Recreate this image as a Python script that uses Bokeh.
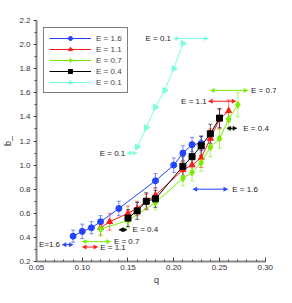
import numpy as np
from bokeh.plotting import figure
from bokeh.models import (Range1d, Whisker, TeeHead, Arrow, NormalHead, ColumnDataSource,
                          Legend, LegendItem, PrintfTickFormatter, FixedTicker, Label)
from bokeh.embed import file_html
from bokeh.resources import INLINE

# ---- data ----
q_16 = [0.09, 0.10, 0.11, 0.12, 0.14, 0.18, 0.20, 0.21, 0.22, 0.23]
b_16 = [0.41, 0.45, 0.48, 0.53, 0.64, 0.87, 1.00, 1.10, 1.17, 1.18]
e_16 = [0.05, 0.06, 0.05, 0.05, 0.06, 0.06, 0.06, 0.06, 0.06, 0.06]

q_11 = [0.12, 0.13, 0.15, 0.16, 0.17, 0.18, 0.21, 0.22, 0.23, 0.24, 0.25, 0.26]
b_11 = [0.48, 0.53, 0.60, 0.64, 0.70, 0.75, 0.96, 1.00, 1.06, 1.22, 1.38, 1.45]
e_11 = [0.06, 0.07, 0.06, 0.06, 0.06, 0.06, 0.07, 0.07, 0.08, 0.08, 0.08, 0.09]

q_07 = [0.12, 0.15, 0.18, 0.21, 0.22, 0.23, 0.24, 0.25, 0.26, 0.27]
b_07 = [0.47, 0.54, 0.69, 0.89, 0.94, 1.02, 1.15, 1.22, 1.38, 1.50]
e_07 = [0.06, 0.06, 0.06, 0.06, 0.07, 0.07, 0.08, 0.08, 0.09, 0.10]

q_04 = [0.15, 0.16, 0.17, 0.18, 0.21, 0.22, 0.23, 0.24, 0.25]
b_04 = [0.56, 0.62, 0.70, 0.72, 0.99, 1.07, 1.16, 1.26, 1.39]
e_04 = [0.07, 0.07, 0.07, 0.07, 0.08, 0.08, 0.08, 0.08, 0.08]

q_01 = [0.16, 0.17, 0.18, 0.19, 0.20, 0.21]
b_01 = [1.15, 1.31, 1.48, 1.62, 1.80, 2.01]

series_labels = ["E = 1.6", "E = 1.1", "E = 0.7", "E = 0.4", "E = 0.1"]

# range annotations: label, series index, x start, x end, y, text x, text side
ann_text = ["E = 0.1", "E = 0.1", "E = 0.7", "E = 1.1", "E = 0.4",
            "E = 1.6", "E=1.6", "E = 0.7", "E = 1.1", "E = 0.4"]
ann_series = [4, 4, 2, 1, 3, 0, 0, 2, 1, 3]
ann_x0 = [0.200, 0.149, 0.240, 0.238, 0.258, 0.221, 0.078, 0.100, 0.100, 0.140]
ann_x1 = [0.238, 0.160, 0.281, 0.268, 0.269, 0.259, 0.090, 0.131, 0.117, 0.149]
ann_y = [2.05, 1.10, 1.62, 1.53, 1.305, 0.80, 0.34, 0.365, 0.32, 0.463]
ann_tx = [0.197, 0.147, 0.2845, 0.236, 0.276, 0.264, 0.0757, 0.1346, 0.1196, 0.155]
ann_side = ["right", "right", "left", "right", "left", "left", "right", "left", "left", "left"]

x_ticks = [0.05, 0.10, 0.15, 0.20, 0.25, 0.30]
y_ticks = [0.2, 0.4, 0.6, 0.8, 1.0, 1.2, 1.4, 1.6, 1.8, 2.0, 2.2]

# ---- styles ----
colors = ["#2244ff", "#ff1a1a", "#77ee00", "#000000", "#77ffdd"]
FONT = "Liberation Sans"

p = figure(width=276, height=287, x_range=Range1d(0.05, 0.3123), y_range=Range1d(0.2, 2.2),
           output_backend="svg", toolbar_location=None,
           min_border_left=31, min_border_right=0, min_border_top=20, min_border_bottom=22)
p.outline_line_color = None
p.grid.visible = False
p.background_fill_color = "white"

xs = [q_16, q_11, q_07, q_04, q_01]
ys = [b_16, b_11, b_07, b_04, b_01]
errs = [e_16, e_11, e_07, e_04, None]
markers = ["circle", "triangle", "diamond", "square", "triangle"]
sizes = [6, 6, 7, 6, 6]
angles = [0, 0, 0, 0, -np.pi / 2]

items = []
for i in range(5):
    c = colors[i]
    if errs[i] is not None:
        src = ColumnDataSource(dict(x=xs[i], lo=[y - e for y, e in zip(ys[i], errs[i])],
                                    hi=[y + e for y, e in zip(ys[i], errs[i])]))
        w = Whisker(source=src, base="x", lower="lo", upper="hi", dimension="height",
                    line_color=c, line_width=1, line_alpha=0.6,
                    upper_head=TeeHead(size=4, line_color=c, line_width=1, line_alpha=0.6),
                    lower_head=TeeHead(size=4, line_color=c, line_width=1, line_alpha=0.6))
        p.add_layout(w)
for i in range(5):
    c = colors[i]
    lr = p.line(xs[i], ys[i], line_color=c, line_width=1)
    sr = p.scatter(xs[i], ys[i], marker=markers[i], size=sizes[i], angle=angles[i],
                   fill_color=c, line_color=c)
    items.append(LegendItem(label=series_labels[i], renderers=[lr, sr]))

for t, s, x0, x1, y, tx, side in zip(ann_text, ann_series, ann_x0, ann_x1, ann_y, ann_tx, ann_side):
    c = colors[s]
    p.add_layout(Arrow(x_start=x0, y_start=y, x_end=x1, y_end=y, line_color=c, line_width=1,
                       start=NormalHead(size=4, fill_color=c, line_color=c, line_width=0.5),
                       end=NormalHead(size=4, fill_color=c, line_color=c, line_width=0.5)))
    p.add_layout(Label(x=tx, y=y, text=t, text_align=side, text_baseline="middle",
                       text_font=FONT, text_font_size="8px", text_color="#222222"))

legend = Legend(items=items, location="top_left", margin=7, padding=5, spacing=1,
                glyph_width=42, glyph_height=10, label_height=10, label_standoff=5,
                label_text_font=FONT, label_text_font_size="8px",
                border_line_color="black", border_line_width=1.5,
                background_fill_alpha=1.0)
p.add_layout(legend)

p.xaxis.ticker = FixedTicker(ticks=x_ticks, minor_ticks=list(np.round(np.arange(0.05, 0.3001, 0.01), 2)))
p.yaxis.ticker = FixedTicker(ticks=y_ticks, minor_ticks=list(np.round(np.arange(0.2, 2.2001, 0.1), 2)))
p.xaxis.bounds = (0.05, 0.30)
p.xaxis.formatter = PrintfTickFormatter(format="%.2f")
p.yaxis.formatter = PrintfTickFormatter(format="%.1f")
p.xaxis.axis_label = "q"
p.yaxis.axis_label = "b_"
for ax in (p.xaxis, p.yaxis):
    ax.major_label_text_font = FONT
    ax.major_label_text_font_size = "8px"
    ax.major_label_text_color = "#333333"
    ax.axis_label_text_font = FONT
    ax.axis_label_text_font_size = "9px"
    ax.axis_label_text_font_style = "normal"
    ax.axis_label_text_color = "#333333"
    ax.axis_line_color = "#888888"
    ax.axis_line_width = 2
    ax.major_tick_line_color = "#444444"
    ax.minor_tick_line_color = "#444444"
p.xaxis.major_tick_in = 4
p.xaxis.major_tick_out = 0
p.xaxis.minor_tick_in = 2
p.xaxis.minor_tick_out = 0
p.xaxis.major_label_standoff = 3
p.xaxis.axis_label_standoff = 2
p.yaxis.major_tick_in = 0
p.yaxis.major_tick_out = 3
p.yaxis.minor_tick_in = 0
p.yaxis.minor_tick_out = 2
p.yaxis.major_label_standoff = 3
p.yaxis.axis_label_standoff = 3

open("out.html", "w").write(file_html(p, INLINE))
